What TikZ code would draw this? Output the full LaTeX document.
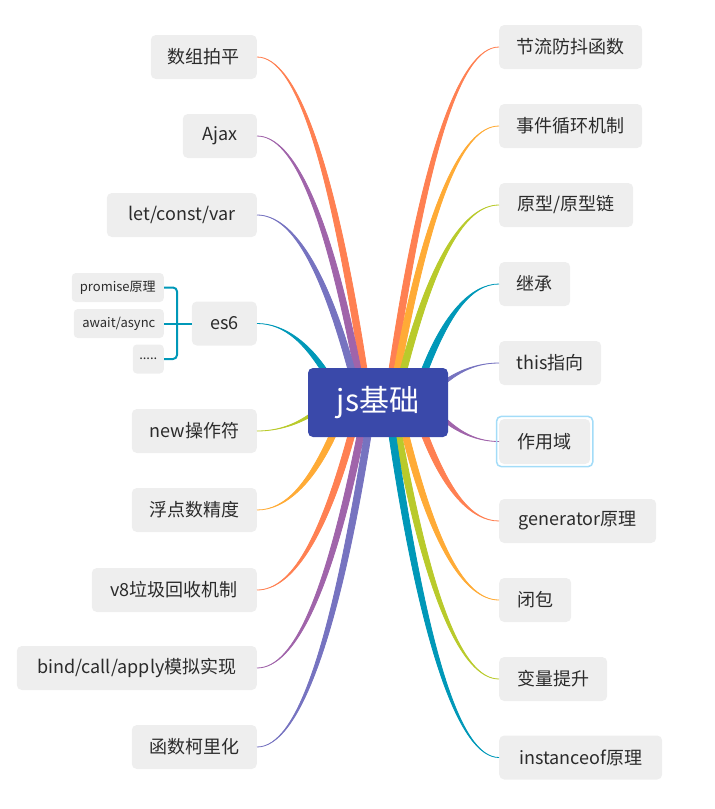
\documentclass[tikz,border=0pt]{standalone}
\usepackage{fontspec}
\setmainfont{Noto Sans CJK SC}
\usetikzlibrary{calc}

\definecolor{jsblue}{HTML}{3A49AA}
\definecolor{topicgray}{HTML}{EEEEEE}
\definecolor{textgray}{HTML}{2B2B2B}
\definecolor{bcoral}{HTML}{FF8052}
\definecolor{bamber}{HTML}{FFAB36}
\definecolor{blime}{HTML}{B9CA2B}
\definecolor{bteal}{HTML}{0098B8}
\definecolor{bpurple}{HTML}{A064AA}
\definecolor{bslate}{HTML}{7673C0}
\definecolor{selblue}{HTML}{A3DCF8}

% tapered branch: colour, root, target
\newcommand\mmbranch[3]{%
  \filldraw[#1, line width=.8pt] let \p1=(#2), \p2=(#3) in
    (\x1-3.4pt,\y1)
    .. controls ({\x1-3.4pt+0.3*(\x2-\x1)},{\y1+0.667*(\y2-\y1)}) and ({\x1+0.633*(\x2-\x1)},\y2) .. (\x2,\y2)
    .. controls ({\x1+0.633*(\x2-\x1)},\y2) and ({\x1+3.4pt+0.3*(\x2-\x1)},{\y1+0.667*(\y2-\y1)}) .. (\x1+3.4pt,\y1)
    -- cycle;}

\begin{document}
\begin{tikzpicture}[x=1pt, y=-1pt,
    topic/.style={fill=topicgray, rounded corners=5pt, minimum height=44pt, inner xsep=0pt, text=textgray, font=\fontsize{18}{20}\selectfont},
    subtopic/.style={fill=topicgray, rounded corners=4pt, minimum height=29pt, inner xsep=0pt, text=textgray, font=\fontsize{13}{15}\selectfont},
    maintopic/.style={fill=jsblue, rounded corners=5pt, minimum width=140pt, minimum height=69pt, text=white, font=\fontsize{30}{32}\selectfont},
    bracket/.style={bteal, line width=2pt, rounded corners=4pt},
    selbox/.style={selblue, line width=1.5pt, rounded corners=5pt}]
    \useasboundingbox (0,0) rectangle (715,809);

    % Define topics, right side
    \node[topic, anchor=west, minimum width=143] (r1) at (499,47) {节流防抖函数};
    \node[topic, anchor=west, minimum width=143] (r2) at (499,126) {事件循环机制};
    \node[topic, anchor=west, minimum width=134] (r3) at (499,205) {原型/原型链};
    \node[topic, anchor=west, minimum width=71] (r4) at (499,284) {继承};
    \node[topic, anchor=west, minimum width=102] (r5) at (499,363) {this指向};
    \node[topic, anchor=west, minimum width=91, minimum height=45] (r6) at (499,441.5) {作用域};
    \node[topic, anchor=west, minimum width=157] (r7) at (499,521) {generator原理};
    \node[topic, anchor=west, minimum width=72] (r8) at (499,600) {闭包};
    \node[topic, anchor=west, minimum width=108] (r9) at (499,679) {变量提升};
    \node[topic, anchor=west, minimum width=163] (r10) at (499,757.5) {instanceof原理};

    % Define topics, left side
    \node[topic, anchor=east, minimum width=106] (l1) at (257,57) {数组拍平};
    \node[topic, anchor=east, minimum width=74] (l2) at (257,136) {Ajax};
    \node[topic, anchor=east, minimum width=150] (l3) at (257,215) {let/const/var};
    \node[topic, anchor=east, minimum width=65] (l4) at (257,323.5) {es6};
    \node[topic, anchor=east, minimum width=125] (l5) at (257,431) {new操作符};
    \node[topic, anchor=east, minimum width=125] (l6) at (257,510) {浮点数精度};
    \node[topic, anchor=east, minimum width=165] (l7) at (257,590) {v8垃圾回收机制};
    \node[topic, anchor=east, minimum width=240] (l8) at (257,668) {bind/call/apply模拟实现};
    \node[topic, anchor=east, minimum width=125] (l9) at (257,747) {函数柯里化};

    % es6 subtopics
    \node[subtopic, anchor=east, minimum width=92] (s1) at (164,287.5) {promise原理};
    \node[subtopic, anchor=east, minimum width=90] (s2) at (164,323.5) {await/async};
    \node[subtopic, anchor=east, minimum width=31] (s3) at (164,359) {.....};
    \coordinate (es6brace) at (177,323.5);

    % branch roots under the main topic
    \coordinate (rr1) at (392,372);
    \coordinate (rr2) at (397,372);
    \coordinate (rr3) at (403,372);
    \coordinate (rr4) at (424,372);
    \coordinate (rr5) at (430,395);
    \coordinate (rr6) at (430,405);
    \coordinate (rr7) at (424,433);
    \coordinate (rr8) at (405,433);
    \coordinate (rr9) at (398,433);
    \coordinate (rr10) at (392,433);
    \coordinate (lr1) at (364,372);
    \coordinate (lr2) at (358,372);
    \coordinate (lr3) at (352,372);
    \coordinate (lr4) at (333,385);
    \coordinate (lr5) at (330,400);
    \coordinate (lr6) at (335,430);
    \coordinate (lr7) at (352,433);
    \coordinate (lr8) at (361,433);
    \coordinate (lr9) at (368,433);

    % Draw branches
    \mmbranch{bcoral}{rr1}{r1.west}
    \mmbranch{bamber}{rr2}{r2.west}
    \mmbranch{blime}{rr3}{r3.west}
    \mmbranch{bteal}{rr4}{r4.west}
    \mmbranch{bslate}{rr5}{r5.west}
    \mmbranch{bpurple}{rr6}{r6.west}
    \mmbranch{bcoral}{rr7}{r7.west}
    \mmbranch{bamber}{rr8}{r8.west}
    \mmbranch{blime}{rr9}{r9.west}
    \mmbranch{bteal}{rr10}{r10.west}
    \mmbranch{bcoral}{lr1}{l1.east}
    \mmbranch{bpurple}{lr2}{l2.east}
    \mmbranch{bslate}{lr3}{l3.east}
    \mmbranch{bteal}{lr4}{l4.east}
    \mmbranch{blime}{lr5}{l5.east}
    \mmbranch{bamber}{lr6}{l6.east}
    \mmbranch{bcoral}{lr7}{l7.east}
    \mmbranch{bpurple}{lr8}{l8.east}
    \mmbranch{bslate}{lr9}{l9.east}

    % main topic on top of the roots
    \node[maintopic] (js) at (378,402.5) {js基础};

    % es6 bracket
    \draw[bracket] (s1.east) -| (es6brace) |- (s3.east);
    \draw[bracket] (s2.east) -- (l4.west);

    % selected topic
    \draw[selbox] ($(r6.north west)+(-2.5,-2.5)$) rectangle ($(r6.south east)+(2.5,2.5)$);
\end{tikzpicture}
\end{document}
